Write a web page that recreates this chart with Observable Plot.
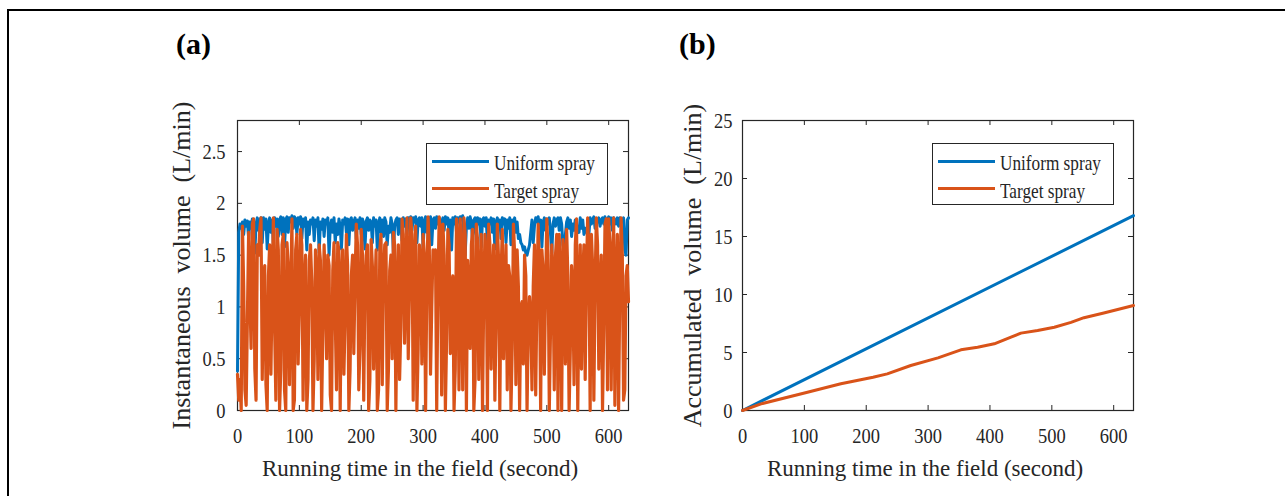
<!DOCTYPE html>
<html>
<head>
<meta charset="utf-8">
<script src="https://cdn.jsdelivr.net/npm/d3@7"></script>
<script src="https://cdn.jsdelivr.net/npm/@observablehq/plot@0.6"></script>
<style>
  html, body { margin: 0; padding: 0; background: #fff; }
  #fig { position: relative; width: 1285px; height: 496px; overflow: hidden; background: #fff;
         font-family: "Liberation Serif", "Times New Roman", serif; color: #262626; }
  .bt { position: absolute; left: 7px; top: 9px; width: 1278px; height: 2px; background: #000; }
  .bl { position: absolute; left: 7px; top: 9px; width: 2px; height: 487px; background: #000; }
  .panel { position: absolute; top: 80px; }
  .ptitle { position: absolute; top: 29px; font-weight: bold; font-size: 30px; line-height: 1; color: #000; }
  .legend { position: absolute; top: 143px; width: 182px; height: 62px; border: 1.2px solid #262626; background: #fff; box-sizing: border-box; }
  .sw { position: absolute; left: 5px; width: 57px; height: 3px; }
  .lt { position: absolute; left: 67px; font-size: 21px; line-height: 21px; white-space: nowrap; color: #262626;
        transform: scaleX(0.82); transform-origin: left center; }
</style>
</head>
<body>
<div id="fig">
  <div class="bt"></div>
  <div class="bl"></div>
  <div class="ptitle" style="left:176px">(a)</div>
  <div class="ptitle" style="left:679px">(b)</div>
  <div id="pa" class="panel" style="left:140px"></div>
  <div id="pb" class="panel" style="left:645px"></div>
</div>
<script>
// ---------- data ----------
const seriesNames = ["Uniform spray", "Target spray"];
const seriesColors = ["#0072BD", "#D95319"];
const xLabel = "Running time in the field (second)";
const yLabelA = "Instantaneous\u00a0 volume\u00a0 (L/min)";
const yLabelB = "Accumulated\u00a0 volume\u00a0 (L/min)";

// Panel (a): instantaneous volume (L/min), sampled every 2 s (0 … 632 s)
const timeInst = d3.range(0, 633, 2);
const uniformInst = [
  0.38, 1.72, 1.80, 1.76, 1.82, 1.70, 1.84, 1.78, 1.83, 1.66, 1.82, 1.76, 1.85, 1.70, 1.52, 1.80, 1.86, 1.74, 1.84, 1.86,
  1.62, 1.86, 1.75, 1.85, 1.56, 1.80, 1.86, 1.72, 1.84, 1.60, 1.86, 1.78, 1.85, 1.68, 1.84, 1.87, 1.70, 1.86, 1.58, 1.84,
  1.87, 1.72, 1.86, 1.82, 1.88, 1.76, 1.87, 1.85, 1.70, 1.86, 1.80, 1.87, 1.66, 1.85, 1.78, 1.86, 1.55, 1.82, 1.70, 1.84,
  1.80, 1.86, 1.64, 1.84, 1.78, 1.86, 1.52, 1.82, 1.75, 1.85, 1.68, 1.84, 1.80, 1.86, 1.50, 1.78, 1.84, 1.72, 1.86, 1.62,
  1.80, 1.70, 1.85, 1.78, 1.56, 1.84, 1.80, 1.86, 1.72, 1.85, 1.60, 1.84, 1.86, 1.74, 1.82, 1.86, 1.66, 1.84, 1.76, 1.86,
  1.70, 1.85, 1.80, 1.56, 1.83, 1.86, 1.74, 1.84, 1.82, 1.62, 1.86, 1.78, 1.84, 1.55, 1.80, 1.86, 1.72, 1.84, 1.68, 1.86,
  1.82, 1.60, 1.78, 1.72, 1.86, 1.80, 1.52, 1.78, 1.84, 1.86, 1.70, 1.85, 1.80, 1.64, 1.86, 1.78, 1.85, 1.70, 1.86, 1.82,
  1.87, 1.74, 1.86, 1.82, 1.87, 1.62, 1.84, 1.86, 1.78, 1.86, 1.56, 1.82, 1.87, 1.72, 1.86, 1.80, 1.87, 1.60, 1.84, 1.86,
  1.76, 1.87, 1.80, 1.86, 1.58, 1.82, 1.86, 1.74, 1.87, 1.80, 1.86, 1.70, 1.84, 1.55, 1.86, 1.80, 1.87, 1.72, 1.86, 1.82,
  1.87, 1.84, 1.88, 1.60, 1.50, 1.78, 1.86, 1.76, 1.87, 1.82, 1.62, 1.84, 1.86, 1.70, 1.86, 1.80, 1.85, 1.58, 1.84, 1.86,
  1.78, 1.86, 1.60, 1.84, 1.80, 1.86, 1.72, 1.85, 1.56, 1.82, 1.86, 1.76, 1.84, 1.66, 1.86, 1.80, 1.85, 1.62, 1.84, 1.76,
  1.86, 1.60, 1.84, 1.80, 1.86, 1.72, 1.82, 1.66, 1.70, 1.62, 1.60, 1.55, 1.58, 1.52, 1.50, 1.55, 1.60, 1.72, 1.84, 1.62,
  1.78, 1.86, 1.82, 1.87, 1.76, 1.84, 1.58, 1.82, 1.86, 1.74, 1.85, 1.80, 1.86, 1.70, 1.52, 1.80, 1.86, 1.78, 1.84, 1.86,
  1.74, 1.86, 1.80, 1.60, 1.55, 1.70, 1.82, 1.86, 1.76, 1.84, 1.68, 1.80, 1.74, 1.84, 1.70, 1.78, 1.72, 1.86, 1.76, 1.84,
  1.70, 1.76, 1.72, 1.74, 1.70, 1.86, 1.80, 1.84, 1.87, 1.76, 1.85, 1.82, 1.86, 1.78, 1.84, 1.86, 1.80, 1.87, 1.76, 1.84,
  1.87, 1.80, 1.86, 1.74, 1.86, 1.84, 1.80, 1.86, 1.78, 1.86, 1.84, 1.82, 1.86, 1.55, 1.50, 1.84, 1.86
];
const targetInst = [
  0.35, 0.10, 0.30, 0.00, 1.78, 1.20, 0.20, 0.05, 0.90, 1.72, 1.10, 0.60, 1.80, 1.85, 0.40, 0.10, 1.60, 1.50, 1.75, 1.86,
  0.30, 1.20, 1.40, 0.25, 0.00, 1.30, 1.60, 0.35, 1.20, 1.86, 0.80, 0.10, 1.75, 1.55, 0.00, 0.40, 1.60, 1.70, 0.20, 0.00,
  1.62, 1.40, 0.25, 1.10, 1.85, 0.00, 0.10, 1.55, 1.70, 0.45, 1.00, 1.75, 1.60, 0.10, 1.20, 1.50, 0.00, 0.30, 1.45, 1.60,
  1.25, 0.00, 0.50, 1.55, 1.30, 0.30, 1.60, 1.45, 0.00, 0.80, 1.60, 1.20, 0.50, 1.50, 1.40, 0.15, 0.00, 1.35, 1.62, 0.90,
  0.20, 1.62, 1.55, 0.00, 1.20, 1.55, 0.35, 0.90, 1.70, 1.40, 0.00, 0.40, 1.30, 1.50, 0.55, 1.25, 1.80, 1.60, 0.20, 0.60,
  1.75, 1.50, 0.10, 1.20, 1.50, 1.60, 0.00, 0.30, 1.65, 1.40, 0.40, 1.10, 1.55, 0.00, 0.20, 1.55, 1.70, 0.25, 1.30, 1.60,
  1.62, 0.00, 0.40, 1.35, 1.50, 0.50, 1.72, 1.60, 0.00, 1.10, 1.60, 0.30, 0.80, 1.85, 1.70, 0.65, 1.30, 1.86, 0.50, 1.20,
  1.86, 1.70, 0.10, 1.40, 1.78, 0.00, 0.60, 1.60, 1.45, 0.45, 1.70, 1.50, 0.00, 1.20, 1.87, 1.60, 0.35, 1.00, 1.55, 1.40,
  1.55, 0.00, 1.20, 1.87, 1.70, 0.15, 1.80, 1.50, 0.00, 0.70, 1.75, 1.60, 0.55, 1.20, 1.30, 0.00, 0.40, 1.85, 1.60, 0.20,
  1.85, 1.40, 0.20, 1.86, 1.70, 0.00, 1.45, 1.20, 0.60, 1.60, 1.75, 0.00, 0.30, 1.80, 1.65, 0.30, 1.20, 1.70, 0.00, 1.10,
  1.70, 1.50, 0.00, 1.80, 1.60, 0.40, 1.30, 1.60, 0.10, 0.90, 1.80, 1.45, 0.00, 1.30, 1.75, 0.50, 1.10, 1.60, 0.20, 1.40,
  1.30, 0.00, 0.60, 1.80, 1.50, 0.25, 1.55, 1.20, 0.00, 1.00, 1.05, 0.45, 1.50, 1.30, 0.00, 0.80, 1.10, 0.90, 0.20, 1.20,
  1.60, 0.15, 1.10, 1.80, 1.40, 0.00, 1.55, 1.35, 0.35, 1.20, 1.85, 1.50, 0.00, 0.80, 1.60, 1.30, 0.20, 1.50, 1.70, 0.00,
  1.70, 1.20, 0.00, 1.65, 1.50, 0.45, 1.75, 1.30, 0.00, 0.60, 1.40, 1.20, 0.25, 1.60, 1.85, 0.00, 1.10, 1.60, 0.40, 1.30,
  1.60, 0.30, 1.30, 1.86, 1.50, 0.00, 1.70, 1.40, 0.10, 1.20, 1.86, 1.60, 0.40, 1.20, 1.50, 0.00, 0.80, 1.80, 1.85, 0.20,
  1.85, 1.60, 0.20, 1.40, 1.86, 0.05, 1.20, 1.70, 0.00, 1.20, 1.86, 1.50, 0.10, 0.20, 1.30, 1.40, 1.05
];

// Panel (b): accumulated volume
const timeUniformAcc = [0, 632];
const uniformAcc = [0, 16.8];
const timeTargetAcc = [0, 30, 105, 159, 211, 234, 272, 316, 353, 380, 407, 434, 450, 477, 504, 531, 552, 584, 632];
const targetAcc = [0, 0.57, 1.58, 2.30, 2.87, 3.16, 3.88, 4.54, 5.23, 5.46, 5.75, 6.32, 6.67, 6.90, 7.18, 7.60, 8.00, 8.40, 9.05];

// ticks
const xTicks = [0, 100, 200, 300, 400, 500, 600];
const yTicksA = [0, 0.5, 1, 1.5, 2, 2.5];
const yTicksB = [0, 5, 10, 15, 20, 25];

// ---------- build ----------
const W = 500, H = 410, ML = 97, MT = 40, MB = 80;
const PW = 391, PH = 290;
const axisColor = "#262626";

function panel({lines, yDomain, yTicks, yLabel, yTickPad, yLabelDx, widths}) {
  const table = [];
  lines.forEach((s, i) => s.t.forEach((t, j) => table.push({t, v: s.v[j], series: seriesNames[i]})));
  return Plot.plot({
    width: W, height: H,
    marginLeft: ML, marginTop: MT, marginBottom: MB, marginRight: W - ML - PW,
    style: {fontFamily: '"Liberation Serif", "Times New Roman", serif', fontSize: "22px", color: axisColor, background: "transparent", overflow: "visible"},
    x: {domain: [0, 632]},
    y: {domain: yDomain},
    color: {domain: seriesNames, range: seriesColors},
    marks: [
      Plot.frame({stroke: axisColor, strokeWidth: 1.2}),
      Plot.tickX(xTicks, {x: d => d, insetTop: PH - 5, stroke: axisColor}),
      Plot.tickX(xTicks, {x: d => d, insetBottom: PH - 5, stroke: axisColor}),
      Plot.tickY(yTicks, {y: d => d, insetRight: PW - 5, stroke: axisColor}),
      Plot.tickY(yTicks, {y: d => d, insetLeft: PW - 5, stroke: axisColor}),
      Plot.line(table.filter(d => d.series === seriesNames[0]), {x: "t", y: "v", stroke: "series", strokeWidth: widths[0], strokeLinejoin: "round"}),
      Plot.line(table.filter(d => d.series === seriesNames[1]), {x: "t", y: "v", stroke: "series", strokeWidth: widths[1], strokeLinejoin: "round"}),
      Plot.axisX({ticks: xTicks, tickSize: 0, tickPadding: 17, tickFormat: d => String(d), label: null}),
      Plot.axisY({ticks: yTicks, tickSize: 0, tickPadding: yTickPad, tickFormat: d => String(d), label: null}),
      Plot.text([xLabel], {text: d => d, frameAnchor: "bottom", textAnchor: "middle", lineAnchor: "middle",
                           dx: -13, dy: 58, fontSize: 23, fill: axisColor, ariaLabel: "x-axis label"}),
      Plot.text([yLabel], {text: d => d, frameAnchor: "left", textAnchor: "middle", lineAnchor: "middle",
                           rotate: -90, dx: yLabelDx, fontSize: 26, fill: axisColor, ariaLabel: "y-axis label"})
    ]
  });
}

function squeeze(svg, selector, f) {
  svg.querySelectorAll(selector).forEach(t => {
    const L = t.getComputedTextLength();
    if (L > 0) {
      t.setAttribute("textLength", (L * f).toFixed(2));
      t.setAttribute("lengthAdjust", "spacingAndGlyphs");
    }
  });
}

const svgA = panel({
  lines: [{t: timeInst, v: uniformInst}, {t: timeInst, v: targetInst}],
  yDomain: [0, 2.8], yTicks: yTicksA, yLabel: yLabelA, yTickPad: 12, yLabelDx: -56, widths: [3, 3.2]
});
const svgB = panel({
  lines: [{t: timeUniformAcc, v: uniformAcc}, {t: timeTargetAcc, v: targetAcc}],
  yDomain: [0, 25], yTicks: yTicksB, yLabel: yLabelB, yTickPad: 10, yLabelDx: -50, widths: [3, 3]
});
document.getElementById("pa").append(svgA);
document.getElementById("pb").append(svgB);
for (const s of [svgA, svgB]) {
  squeeze(s, 'g[aria-label="x-axis tick label"] text, g[aria-label="y-axis tick label"] text', 0.84);
  squeeze(s, 'g[aria-label="x-axis label"] text', 0.91);
}

// legends (HTML, built from the series arrays)
function legend(left) {
  const box = document.createElement("div");
  box.className = "legend";
  box.style.left = left + "px";
  seriesNames.forEach((name, i) => {
    const sw = document.createElement("div");
    sw.className = "sw";
    sw.style.top = (15.5 + i * 27.7) + "px";
    sw.style.background = seriesColors[i];
    const tx = document.createElement("div");
    tx.className = "lt";
    tx.style.top = (8.5 + i * 28) + "px";
    tx.textContent = name;
    box.append(sw, tx);
  });
  document.getElementById("fig").append(box);
}
legend(426);
legend(932);
</script>
</body>
</html>
